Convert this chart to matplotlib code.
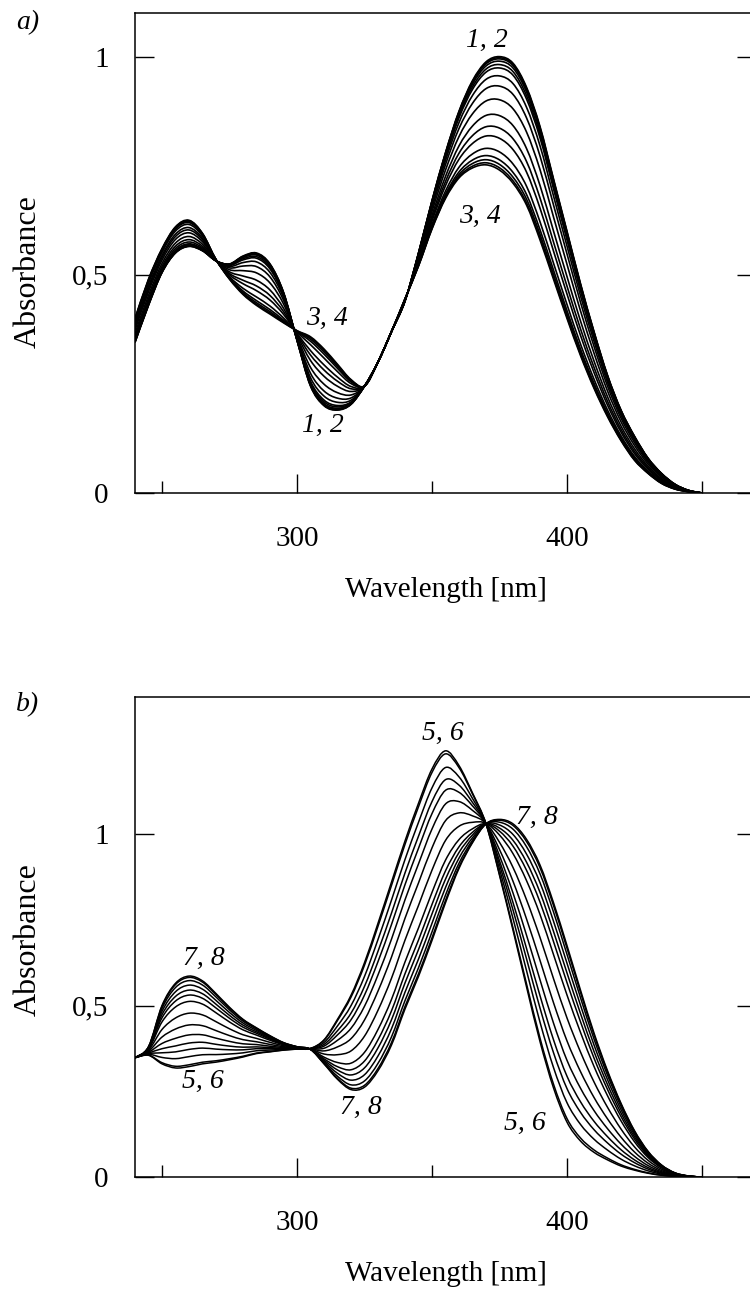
import numpy as np
import matplotlib
matplotlib.use('Agg')
import matplotlib.pyplot as plt
from matplotlib.path import Path
from matplotlib.patches import PathPatch

# Global parameters
FONT = 'Liberation Serif'
plt.rcParams['font.family'] = FONT

# Wavelength grid of the read-off spectra [nm]
wl = [240, 245, 250, 255, 260, 265, 270, 275, 280, 285, 290, 295, 300, 305,
      310, 315, 320, 325, 330, 335, 340, 345, 350, 355, 360, 365, 370, 375,
      380, 385, 390, 395, 400, 405, 410, 415, 420, 425, 430, 435, 440, 445, 450]

# Panel a) : spectra 1,2 (start) and 3,4 (end)
abs_a_12 = [0.345, 0.43, 0.505, 0.55, 0.565, 0.555, 0.532, 0.525, 0.543, 0.55,
            0.525, 0.46, 0.35, 0.245, 0.2, 0.19, 0.203, 0.245, 0.30, 0.37,
            0.44, 0.55, 0.67, 0.78, 0.875, 0.945, 0.988, 1.0, 0.985, 0.93,
            0.84, 0.72, 0.60, 0.48, 0.37, 0.27, 0.19, 0.13, 0.08, 0.045,
            0.02, 0.006, 0.0]
abs_a_34 = [0.40, 0.49, 0.56, 0.61, 0.625, 0.595, 0.535, 0.49, 0.455, 0.43,
            0.41, 0.39, 0.372, 0.358, 0.33, 0.295, 0.26, 0.245, 0.30, 0.37,
            0.445, 0.52, 0.605, 0.675, 0.722, 0.745, 0.752, 0.74, 0.71, 0.66,
            0.58, 0.49, 0.40, 0.315, 0.24, 0.175, 0.12, 0.075, 0.045, 0.022,
            0.009, 0.003, 0.0]
# share of the end spectrum in each recorded curve (read from peak heights)
frac_a = [0.0, 0.01, 0.02, 0.04, 0.07, 0.10, 0.17, 0.26, 0.38, 0.52, 0.63,
          0.72, 0.84, 0.91, 0.95, 0.98, 1.0]

# Panel b) : spectra 5,6 (start) and 7,8 (end)
abs_b_56 = [0.348, 0.355, 0.33, 0.318, 0.322, 0.33, 0.335, 0.342, 0.35, 0.36,
            0.365, 0.37, 0.373, 0.375, 0.40, 0.46, 0.53, 0.625, 0.74, 0.86,
            0.98, 1.09, 1.19, 1.243, 1.20, 1.12, 1.03, 0.88, 0.72, 0.555,
            0.395, 0.26, 0.16, 0.105, 0.072, 0.05, 0.032, 0.02, 0.011, 0.005,
            0.002, 0.0, 0.0]
abs_b_78 = [0.348, 0.38, 0.50, 0.565, 0.586, 0.572, 0.535, 0.495, 0.46, 0.435,
            0.412, 0.392, 0.38, 0.372, 0.33, 0.285, 0.255, 0.262, 0.31, 0.385,
            0.49, 0.585, 0.69, 0.80, 0.90, 0.975, 1.03, 1.043, 1.03, 0.985,
            0.91, 0.80, 0.675, 0.545, 0.42, 0.31, 0.215, 0.135, 0.075, 0.035,
            0.012, 0.003, 0.0]
frac_b = [0.0, 0.02, 0.11, 0.19, 0.26, 0.35, 0.46, 0.59, 0.72, 0.79, 0.845,
          0.90, 0.95, 0.985, 1.0]

# Curve labels: (text, wavelength, absorbance)
labels_a = [('1, 2', 370.4, 1.037), ('3, 4', 367.8, 0.633),
            ('3, 4', 311, 0.399), ('1, 2', 309.4, 0.154)]
labels_b = [('5, 6', 354.2, 1.294), ('7, 8', 389, 1.05),
            ('7, 8', 265.6, 0.638), ('5, 6', 265, 0.278),
            ('7, 8', 323.7, 0.203), ('5, 6', 384.4, 0.157)]

W, H = 750, 1289
fig = plt.figure(figsize=(W/100, H/100), dpi=100)

def setup(ax, ymax):
    ax.set_xlim(240, 470)
    ax.set_ylim(0, ymax)
    ax.set_xticks([300, 400])
    ax.set_xticks([250, 350, 450], minor=True)
    ax.set_yticks([0, 0.5, 1])
    ax.set_yticklabels(['0', '0,5', '1'])
    ax.tick_params(axis='both', which='major', direction='in', length=13.5,
                   width=1.0, labelsize=21, right=True)
    ax.tick_params(axis='x', which='major', pad=24)
    ax.tick_params(axis='y', which='major', pad=19)
    ax.tick_params(axis='x', which='minor', direction='in', length=8.5,
                   width=1.0)
    for s in ax.spines.values():
        s.set_linewidth(1.1)
    ax.set_xlabel('Wavelength [nm]', fontsize=21, labelpad=18)

def smooth_path(x, y):
    # Catmull-Rom style bezier through the read points (smooth line look)
    pts = np.column_stack([x, y])
    verts = [pts[0]]
    codes = [Path.MOVETO]
    n = len(pts)
    for i in range(n - 1):
        p0 = pts[max(i - 1, 0)]
        p1 = pts[i]
        p2 = pts[i + 1]
        p3 = pts[min(i + 2, n - 1)]
        verts += [p1 + (p2 - p0)/6, p2 - (p3 - p1)/6, p2]
        codes += [Path.CURVE4]*3
    return Path(verts, codes)

def draw(ax, start, end, fracs, lw):
    start = np.array(start)
    end = np.array(end)
    x = np.array(wl, dtype=float)
    for f in fracs:
        ax.add_patch(PathPatch(smooth_path(x, (1 - f)*start + f*end),
                               fill=False, edgecolor='black', lw=lw,
                               joinstyle='round'))

# a)
ax1 = fig.add_axes([135/W, 1 - 493/H, 621/W, 480/H])
draw(ax1, abs_a_12, abs_a_34, frac_a, 1.2)
setup(ax1, 1.1)
for txt, x, y in labels_a:
    ax1.text(x, y, txt, fontsize=20, style='italic', ha='center', va='center')
fig.text(28/W, 1 - 23/H, 'a)', fontsize=20, style='italic',
         ha='center', va='center')
fig.text(28/W, 1 - 272/H, 'Absorbance', fontsize=23, rotation=90,
         ha='center', va='center')

# b)
ax2 = fig.add_axes([135/W, 1 - 1177/H, 621/W, 480/H])
draw(ax2, abs_b_56, abs_b_78, frac_b, 1.1)
setup(ax2, 1.4)
for txt, x, y in labels_b:
    ax2.text(x, y, txt, fontsize=20, style='italic', ha='center', va='center')
fig.text(28/W, 1 - 705/H, 'b)', fontsize=20, style='italic',
         ha='center', va='center')
fig.text(28/W, 1 - 940/H, 'Absorbance', fontsize=23, rotation=90,
         ha='center', va='center')

plt.savefig('out.png', dpi=100)
